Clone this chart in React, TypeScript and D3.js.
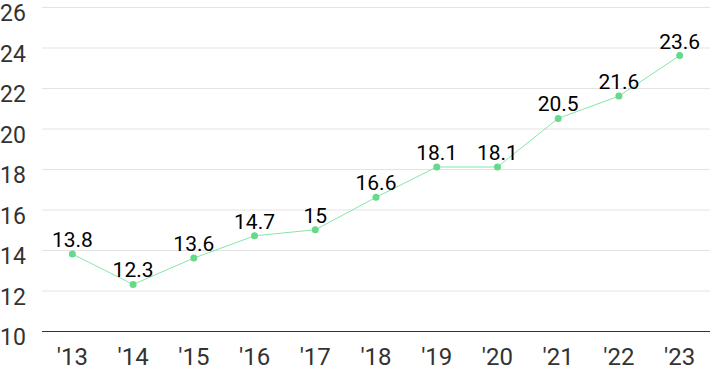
import { useEffect, useRef } from "react";
import * as d3 from "d3";

const years = ["'13", "'14", "'15", "'16", "'17", "'18", "'19", "'20", "'21", "'22", "'23"];
const values = [13.8, 12.3, 13.6, 14.7, 15, 16.6, 18.1, 18.1, 20.5, 21.6, 23.6];
const yTicks = [10, 12, 14, 16, 18, 20, 22, 24, 26];

const App = () => {
  const ref = useRef<SVGSVGElement>(null);

  useEffect(() => {
    if (!ref.current) return;
    const width = 710;
    const height = 371;
    const margin = { top: 7, right: 0, bottom: 40, left: 42 };

    const svg = d3.select(ref.current);
    svg.selectAll("*").remove();

    const x = d3
      .scaleBand()
      .domain(years)
      .range([margin.left, width - margin.right]);

    const y = d3
      .scaleLinear()
      .domain([10, 26])
      .range([height - margin.bottom, margin.top]);

    // grid
    svg
      .append("g")
      .selectAll("line")
      .data(yTicks.slice(1))
      .join("line")
      .attr("x1", margin.left)
      .attr("x2", width)
      .attr("y1", (d) => y(d) + 0.5)
      .attr("y2", (d) => y(d) + 0.5)
      .attr("stroke", "#e3e3e3")
      .attr("stroke-width", 1);

    // baseline
    svg
      .append("line")
      .attr("x1", margin.left)
      .attr("x2", width)
      .attr("y1", y(10) + 0.5)
      .attr("y2", y(10) + 0.5)
      .attr("stroke", "#333")
      .attr("stroke-width", 1);

    // y tick labels
    svg
      .append("g")
      .selectAll("text")
      .data(yTicks)
      .join("text")
      .attr("x", 0)
      .attr("y", (d) => y(d) + 14)
      .attr("font-family", "Roboto, sans-serif")
      .attr("font-size", 23)
      .attr("fill", "#333")
      .text((d) => d);

    // x tick labels
    svg
      .append("g")
      .selectAll("text")
      .data(years)
      .join("text")
      .attr("x", (d) => x(d)! + x.bandwidth() / 2)
      .attr("y", 365)
      .attr("text-anchor", "middle")
      .attr("font-family", "Roboto, sans-serif")
      .attr("font-size", 24)
      .attr("fill", "#333")
      .text((d) => d);

    const cx = (i: number) => x(years[i])! + x.bandwidth() / 2;

    svg
      .append("path")
      .datum(values)
      .attr("fill", "none")
      .attr("stroke", "#86e6a6")
      .attr("stroke-width", 1)
      .attr(
        "d",
        d3
          .line<number>()
          .x((d, i) => cx(i))
          .y((d) => y(d))
      );

    svg
      .append("g")
      .selectAll("circle")
      .data(values)
      .join("circle")
      .attr("cx", (d, i) => cx(i))
      .attr("cy", (d) => y(d))
      .attr("r", 3.5)
      .attr("fill", "#66d98c");

    svg
      .append("g")
      .selectAll("text")
      .data(values)
      .join("text")
      .attr("x", (d, i) => cx(i))
      .attr("y", (d) => y(d) - 7)
      .attr("text-anchor", "middle")
      .attr("font-family", "Roboto, sans-serif")
      .attr("font-size", 21)
      .attr("fill", "#000")
      .text((d) => d);
  }, []);

  return (
    <svg
      ref={ref}
      width={710}
      height={371}
      style={{ position: "absolute", left: 0, top: 0, display: "block" }}
    />
  );
};

export default App;
